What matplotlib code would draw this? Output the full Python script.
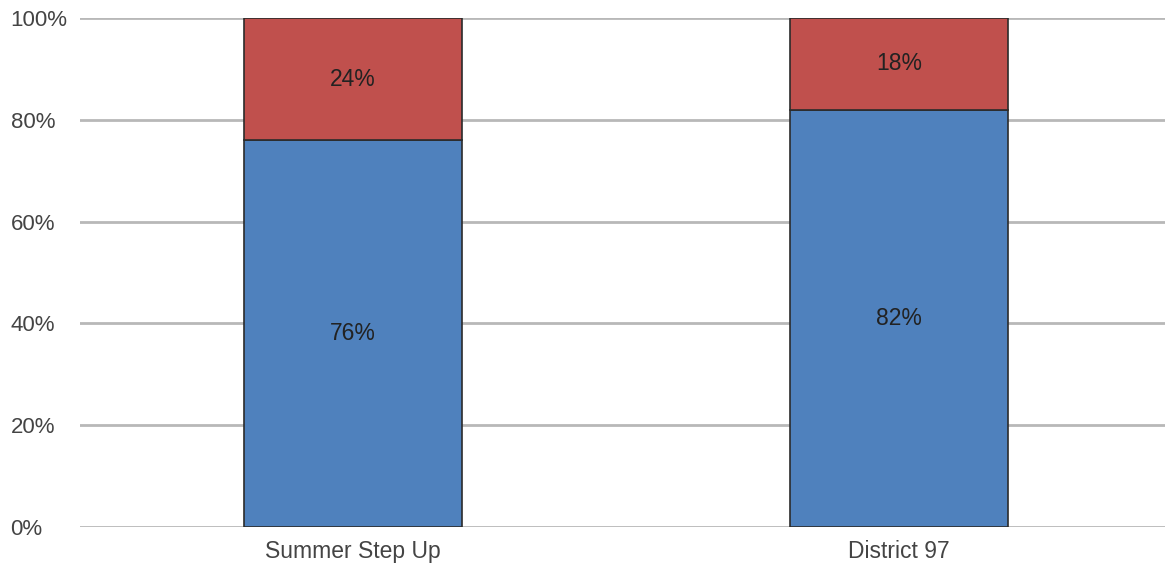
import matplotlib.pyplot as plt
from matplotlib.ticker import PercentFormatter

plt.rcParams['font.family'] = ['Liberation Sans', 'DejaVu Sans']

categories = ['Summer Step Up', 'District 97']
lower_vals = [76, 82]
upper_vals = [24, 18]

blue = '#4F81BD'
red = '#C0504D'

fig = plt.figure(figsize=(11.65, 5.67), dpi=100)
ax = fig.add_axes([0.0687, 0.0705, 0.9313, 0.8977])

x = range(len(categories))
ax.bar(x, lower_vals, width=0.4, color=blue, edgecolor='#2b2b2b', linewidth=1.2, zorder=3)
ax.bar(x, upper_vals, width=0.4, bottom=lower_vals, color=red, edgecolor='#2b2b2b', linewidth=1.2, zorder=3)

for i in x:
    ax.text(i, lower_vals[i] / 2, f'{lower_vals[i]}%', ha='center', va='center',
            fontsize=16.5, color='#222222', zorder=4)
    ax.text(i, lower_vals[i] + upper_vals[i] / 2, f'{upper_vals[i]}%', ha='center', va='center',
            fontsize=16.5, color='#222222', zorder=4)

ax.set_xlim(-0.5, 1.487)
ax.set_ylim(0, 100)
ax.set_yticks([0, 20, 40, 60, 80, 100])
ax.yaxis.set_major_formatter(PercentFormatter(decimals=0))
ax.set_xticks(list(x))
ax.set_xticklabels(categories)

ax.grid(axis='y', color='#b8b8b8', linewidth=2, zorder=0)
for s in ax.spines.values():
    s.set_visible(False)
ax.tick_params(length=0, labelcolor='#444444')
ax.tick_params(axis='x', pad=9, labelsize=16.5)
ax.tick_params(axis='y', pad=50, labelsize=16)
for lbl in ax.get_yticklabels():
    lbl.set_horizontalalignment('left')

fig.savefig('out.png', dpi=100)
